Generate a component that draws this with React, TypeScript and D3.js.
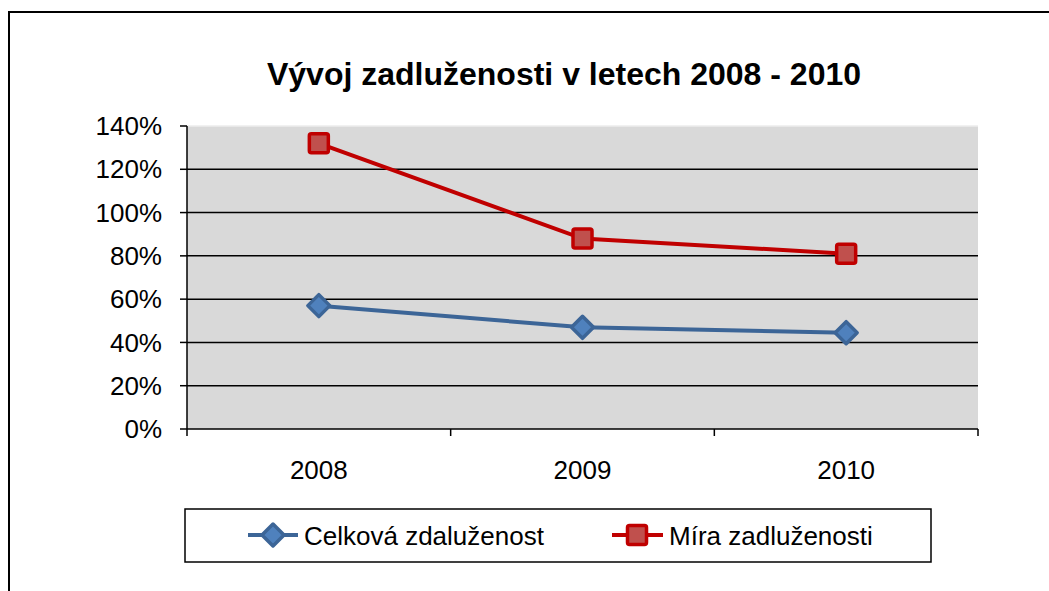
import * as d3 from "d3";

// chart data
const years = ["2008", "2009", "2010"];
const celkova = [0.57, 0.47, 0.445];
const mira = [1.32, 0.88, 0.81];
const yTicks = [0, 0.2, 0.4, 0.6, 0.8, 1.0, 1.2, 1.4];
const seriesNames = ["Celková zdaluženost", "Míra zadluženosti"];

const W = 1049;
const H = 591;
const margin = { left: 187, right: 71, top: 126, bottom: 162 };
const font = "Arial, 'Liberation Sans', sans-serif";

const BLUE_LINE = "#3C6597";
const BLUE_FILL = "#4F81BD";
const RED_LINE = "#C00000";
const RED_FILL = "#C0504D";

const Diamond = ({ x, y, s = 11 }: { x: number; y: number; s?: number }) => (
  <path
    d={`M${x},${y - s}L${x + s},${y}L${x},${y + s}L${x - s},${y}Z`}
    fill={BLUE_FILL}
    stroke={BLUE_LINE}
    strokeWidth={3.5}
    strokeLinejoin="round"
  />
);

const Square = ({ x, y, s = 9.5 }: { x: number; y: number; s?: number }) => (
  <rect
    x={x - s}
    y={y - s}
    width={s * 2}
    height={s * 2}
    rx={2}
    fill={RED_FILL}
    stroke={RED_LINE}
    strokeWidth={3.5}
  />
);

const App = () => {
  const x0 = margin.left;
  const x1 = W - margin.right;
  const yTop = margin.top;
  const yBot = H - margin.bottom;

  const xScale = d3.scaleBand().domain(years).range([x0, x1]);
  const yScale = d3.scaleLinear().domain([0, 1.4]).range([yBot, yTop]);
  const cx = (d: string) => (xScale(d) ?? 0) + xScale.bandwidth() / 2;

  const line = d3
    .line<number>()
    .x((_, i) => cx(years[i]))
    .y((v) => yScale(v));

  const fmt = d3.format(".0%");
  const boundaries = [...years.map((d) => xScale(d) ?? 0), x1];

  return (
    <svg
      width={W}
      height={H}
      style={{ position: "absolute", left: 0, top: 0, display: "block" }}
      fontFamily={font}
    >
      <rect width={W} height={H} fill="#fff" />
      {/* outer chart border, runs off the right and bottom edge */}
      <rect x={9} y={12} width={W + 40} height={H + 40} fill="none" stroke="#000" strokeWidth={2} />

      <text x={564} y={85} textAnchor="middle" fontSize={32} fontWeight="bold" fill="#000">
        Vývoj zadluženosti v letech 2008 - 2010
      </text>

      {/* plot area */}
      <rect x={x0} y={yTop} width={x1 - x0} height={yBot - yTop} fill="#D9D9D9" />
      <line x1={x0} x2={x1} y1={yTop} y2={yTop} stroke="#ECECEC" strokeWidth={1.5} />
      {yTicks.slice(1, -1).map((t) => (
        <line key={t} x1={x0} x2={x1} y1={yScale(t)} y2={yScale(t)} stroke="#000" strokeWidth={1.5} />
      ))}

      {/* y axis */}
      <line x1={x0} x2={x0} y1={yTop} y2={yBot} stroke="#000" strokeWidth={1.5} />
      {yTicks.map((t) => (
        <g key={t}>
          <line x1={x0 - 7} x2={x0} y1={yScale(t)} y2={yScale(t)} stroke="#000" strokeWidth={1.5} />
          <text x={162} y={yScale(t)} dy="0.35em" textAnchor="end" fontSize={26} fill="#000">
            {fmt(t)}
          </text>
        </g>
      ))}

      {/* x axis */}
      <line x1={x0} x2={x1} y1={yBot} y2={yBot} stroke="#000" strokeWidth={1.5} />
      {boundaries.map((b, i) => (
        <line key={i} x1={b} x2={b} y1={yBot} y2={yBot + 7} stroke="#000" strokeWidth={1.5} />
      ))}
      {years.map((d) => (
        <text key={d} x={cx(d)} y={yBot + 41} dy="0.35em" textAnchor="middle" fontSize={26} fill="#000">
          {d}
        </text>
      ))}

      {/* series */}
      <path d={line(celkova) ?? ""} fill="none" stroke={BLUE_LINE} strokeWidth={4} />
      <path d={line(mira) ?? ""} fill="none" stroke={RED_LINE} strokeWidth={4} />
      {celkova.map((v, i) => (
        <Diamond key={i} x={cx(years[i])} y={yScale(v)} />
      ))}
      {mira.map((v, i) => (
        <Square key={i} x={cx(years[i])} y={yScale(v)} />
      ))}

      {/* legend */}
      <rect x={185} y={509} width={746} height={53} fill="#fff" stroke="#000" strokeWidth={1.5} />
      <g>
        <line x1={248} x2={298} y1={535} y2={535} stroke={BLUE_LINE} strokeWidth={4} />
        <Diamond x={273} y={535} />
        <text x={304} y={545} fontSize={26} fill="#000">
          {seriesNames[0]}
        </text>
      </g>
      <g>
        <line x1={612} x2={663} y1={535} y2={535} stroke={RED_LINE} strokeWidth={4} />
        <Square x={637} y={535} />
        <text x={669} y={545} fontSize={26} fill="#000">
          {seriesNames[1]}
        </text>
      </g>
    </svg>
  );
};

export default App;
